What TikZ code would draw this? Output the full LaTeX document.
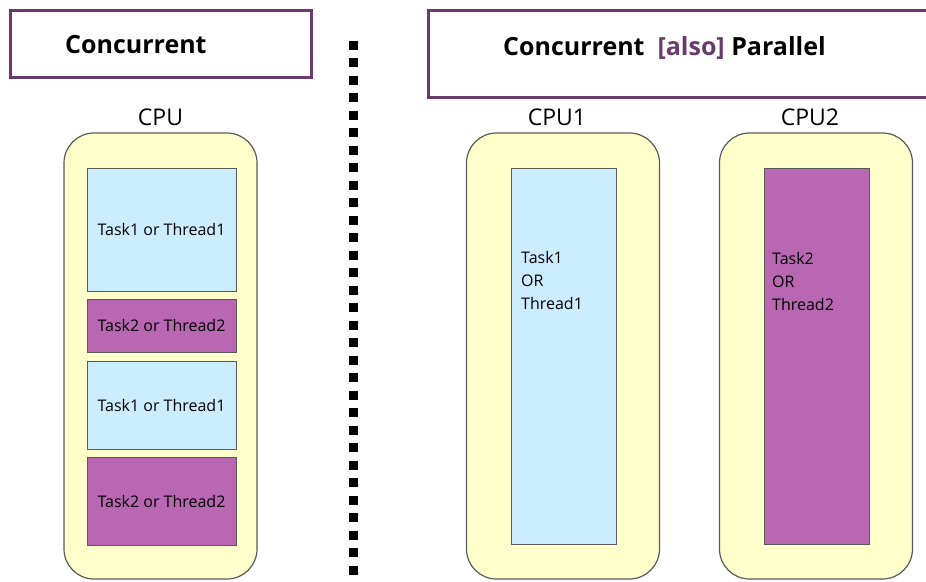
\documentclass[tikz,border=0pt]{standalone}
\usepackage{fontspec}
\setmainfont{Open Sans}
\definecolor{cpuyellow}{HTML}{FFFFCC}
\definecolor{cpuline}{HTML}{5A5A5A}
\definecolor{taskblue}{HTML}{CCECFF}
\definecolor{taskpurple}{HTML}{B966B3}
\definecolor{titlepurple}{HTML}{6A3A6E}
\tikzstyle{cpu}=[draw=cpuline, fill=cpuyellow, line width=1.2pt, rounded corners=30pt, minimum width=193pt, minimum height=446pt]
\tikzstyle{taskA}=[draw=cpuline, fill=taskblue, line width=1pt, minimum width=149pt, font=\fontsize{16}{19}\selectfont]
\tikzstyle{taskB}=[draw=cpuline, fill=taskpurple, line width=1pt, minimum width=149pt, font=\fontsize{16}{19}\selectfont]
\tikzstyle{titlebox}=[draw=titlepurple, line width=3pt]
\tikzstyle{cpulabel}=[font=\fontsize{23}{26}\selectfont]

\begin{document}
\begin{tikzpicture}[x=1pt, y=-1pt]
\useasboundingbox (0,0) rectangle (926,581);
\clip (0,0) rectangle (926,581);

\draw[titlebox] (10,10) rectangle (311,77);
\draw[titlebox] (428,10) rectangle (945,97);
\node[anchor=west, inner sep=0pt, font=\fontsize{25}{29}\selectfont\bfseries] (conc) at (65,45) {Concurrent};
\node[anchor=west, inner sep=0pt, font=\fontsize{25}{29}\selectfont\bfseries] (para) at (503,48) {Concurrent\ \ {\color{titlepurple}[also]} Parallel};

\node[cpulabel] (lcpu)  at (160.5,117) {CPU};
\node[cpulabel] (lcpu1) at (557,117)   {CPU1};
\node[cpulabel] (lcpu2) at (810,117)   {CPU2};

\node[cpu] (cpu)  at (160.5,356) {};
\node[cpu] (cpu1) at (563,356)   {};
\node[cpu] (cpu2) at (816,356)   {};

\node[taskA, minimum height=123pt] (t1) at (161.5,229.5) {Task1 or Thread1};
\node[taskB, minimum height=53pt]  (t2) at (161.5,325.5) {Task2 or Thread2};
\node[taskA, minimum height=88pt]  (t3) at (161.5,405)   {Task1 or Thread1};
\node[taskB, minimum height=88pt]  (t4) at (161.5,501)   {Task2 or Thread2};

\node[taskA, minimum width=105pt, minimum height=376pt] (p1) at (563.5,356) {};
\node[taskB, minimum width=105pt, minimum height=376pt] (p2) at (816.5,356) {};
\node[anchor=west, align=left, inner sep=0pt, font=\fontsize{16}{23}\selectfont] at (521,280) {Task1\\OR\\Thread1};
\node[anchor=west, align=left, inner sep=0pt, font=\fontsize{16}{23}\selectfont] at (772,281) {Task2\\OR\\Thread2};

\draw[line width=9pt, dash pattern=on 9pt off 8.5pt] (353,40.5) -- (353,575);

\end{tikzpicture}
\end{document}
